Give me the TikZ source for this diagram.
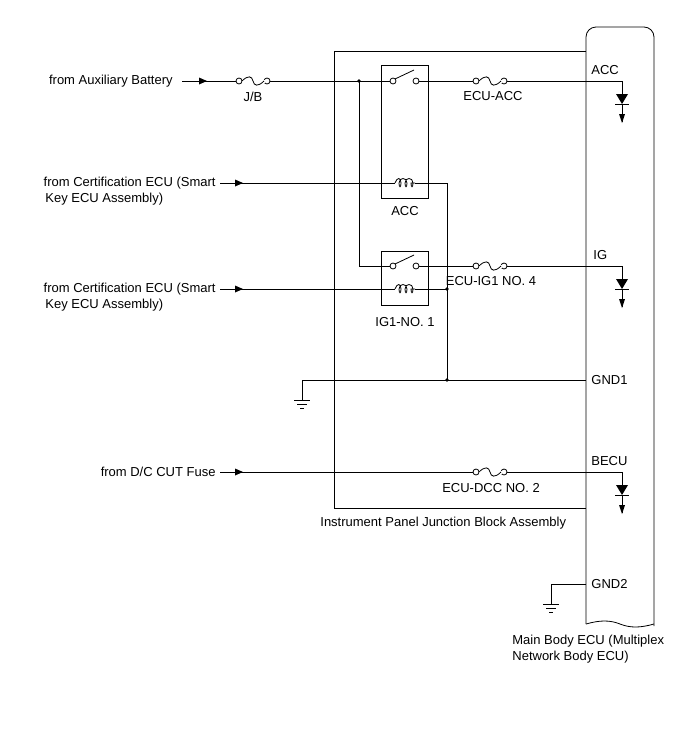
\documentclass[tikz,border=0pt]{standalone}
\usepackage{fontspec}
\setmainfont{Liberation Sans}
\begin{document}
\begin{tikzpicture}[x=1pt,y=-1pt,line width=0.8pt,
  lbl/.style={font=\fontsize{13}{15}\selectfont,inner sep=0pt},
  fuse/.pic={\draw[fill=white] (-14,0) circle (3) (14,0) circle (3);
     \draw[fill=white,draw=white] (-11,-1) rectangle (11,1);
     \draw (-11,0) .. controls (-5,-6) and (-1,-5) .. (0,0) .. controls (1,5) and (5,6) .. (11,0);},
  coil/.pic={\fill[white] (-10,-4) rectangle (10,4);
     \draw (-10,0) .. controls (-8,-6) and (-4,-6) .. (-4,0) .. controls (-4,5) and (-6,5) .. (-6,0)
       .. controls (-6,-6) and (2,-6) .. (2,0) .. controls (2,5) and (0,5) .. (0,0)
       .. controls (0,-6) and (8,-6) .. (8,0) .. controls (8,5) and (6,5) .. (6,0) -- (10,0);},
  sw/.pic={\fill[white] (-14,-12) rectangle (14,4);
     \draw[fill=white] (-11,0) circle (3) (12,0) circle (3);
     \draw (-9,-2) -- (10,-11);},
  diode/.pic={\fill (-6,0) -- (6,0) -- (0,10) -- cycle; \draw (-7,10) -- (7,10) (0,10) -- (0,28);
     \fill (-3,20) -- (3,20) -- (0,29) -- cycle;},
  gnd/.pic={\draw (0,0) -- (0,10) (-8,10) -- (8,10) (-5,14) -- (5,14) (-2,18) -- (2,18);},
  arr/.pic={\fill (-8,-3.5) -- (0,0) -- (-8,3.5) -- cycle;}
]
\useasboundingbox (0,0) rectangle (688,755);
% boxes
\draw (586,51) -- (334,51) -- (334,508) -- (586,508);
\draw[rounded corners=10] (586,624) -- (586,27) -- (654,27) -- (654,626);
\draw (586,624) .. controls (600,620) and (610,620) .. (620,624) .. controls (630,628) and (640,628) .. (654,624);
\node[lbl,anchor=west] (jbl) at (320,523) {Instrument Panel Junction Block Assembly};
\node[lbl,anchor=west] (ecu1) at (512,641) {Main Body ECU (Multiplex};
\node[lbl,anchor=west] (ecu2) at (512,657) {Network Body ECU)};
% relays
\draw (381,65) rectangle (428,198);
\draw (381,251) rectangle (428,305);
\node[lbl] (accr) at (405,211) {ACC};
\node[lbl] (igr) at (405,322) {IG1-NO. 1};
% top line
\node[lbl,anchor=east] (aux) at (173,81) {from Auxiliary Battery};
\coordinate (dA) at (622,81);
\draw (182,81) -- (dA) -- (622,95);
\pic at (207,81) {arr};
\pic at (253,81) {fuse};
\node[lbl] (jb) at (253,97) {J/B};
\fill (359,81) circle (1.8);
\pic at (404,81) {sw};
\pic at (490,81) {fuse};
\node[lbl] (fa) at (493,96) {ECU-ACC};
\pic at (622,94) {diode};
\node[lbl,anchor=west] (pacc) at (591,70) {ACC};
% ACC coil
\node[lbl,anchor=east] (c1a) at (216,183) {from Certification ECU (Smart};
\node[lbl,anchor=west] (c1b) at (45,199) {Key ECU Assembly)};
\draw (220,183) -- (447,183) -- (447,380);
\pic at (243,183) {arr};
\pic at (405,183) {coil};
% IG line
\draw (359,81) -- (359,266) -- (622,266) -- (622,280);
\pic at (404,266) {sw};
\pic at (490,266) {fuse};
\node[lbl] (fi) at (491,281) {ECU-IG1 NO. 4};
\pic at (622,279) {diode};
\node[lbl,anchor=west] (pig) at (593,255) {IG};
% IG coil
\node[lbl,anchor=east] (c2a) at (216,289) {from Certification ECU (Smart};
\node[lbl,anchor=west] (c2b) at (45,305) {Key ECU Assembly)};
\draw (220,289) -- (447,289);
\pic at (243,289) {arr};
\pic at (405,289) {coil};
\fill (447,289) circle (1.8);
% GND1
\draw (302,395) -- (302,380) -- (586,380);
\fill (447,380) circle (1.8);
\pic at (302,390) {gnd};
\node[lbl,anchor=west] (g1) at (591,380) {GND1};
% BECU
\node[lbl,anchor=east] (dc) at (216,472) {from D/C CUT Fuse};
\draw (220,472) -- (622,472) -- (622,485);
\pic at (243,472) {arr};
\pic at (490,472) {fuse};
\node[lbl] (fd) at (491,488) {ECU-DCC NO. 2};
\pic at (622,485) {diode};
\node[lbl,anchor=west] (be) at (591,461) {BECU};
% GND2
\draw (586,584) -- (551,584) -- (551,594);
\pic at (551,594) {gnd};
\node[lbl,anchor=west] (g2) at (591,584) {GND2};
\end{tikzpicture}
\end{document}
